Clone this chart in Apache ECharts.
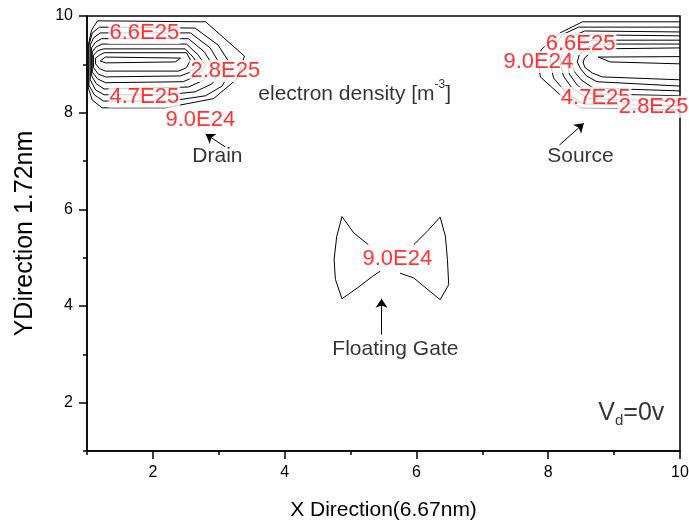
<!DOCTYPE html>
<html>
<head>
<meta charset="utf-8">
<script src="https://cdn.jsdelivr.net/npm/echarts@6/dist/echarts.min.js"></script>
<style>
  html, body { margin: 0; padding: 0; background: #fff; }
  #chart { width: 689px; height: 523px; }
</style>
</head>
<body>
<div id="chart"></div>
<script>
// Axis ranges and tick positions
const xRange = [1, 10];
const yRange = [1, 10];
const majorTicks = [2, 4, 6, 8, 10];
const minorTicks = [1, 3, 5, 7, 9];

// Electron density iso-lines near the drain (closed loops, outermost first)
const drainContours = [
  [[1.16,9.90],[2.80,9.88],[3.39,9.17],[3.28,8.70],[2.92,8.29],[2.19,8.10],[1.23,8.10],[1.08,8.26],[1.02,8.51],[1.02,9.40],[1.07,9.71],[1.16,9.90]],
  [[1.19,9.77],[2.64,9.75],[2.99,9.40],[3.21,8.93],[3.05,8.55],[2.80,8.35],[2.26,8.24],[1.25,8.24],[1.11,8.37],[1.03,8.57],[1.03,9.40],[1.08,9.65],[1.19,9.77]],
  [[1.20,9.65],[2.57,9.65],[2.87,9.34],[3.05,8.93],[2.90,8.60],[2.64,8.43],[2.19,8.37],[1.26,8.37],[1.13,8.47],[1.05,8.68],[1.05,9.40],[1.10,9.55],[1.20,9.65]],
  [[1.22,9.53],[2.54,9.53],[2.78,9.26],[2.92,8.95],[2.78,8.68],[2.54,8.53],[1.26,8.49],[1.14,8.60],[1.07,8.76],[1.07,9.34],[1.13,9.46],[1.22,9.53]],
  [[1.23,9.42],[2.51,9.42],[2.69,9.19],[2.80,8.97],[2.66,8.76],[2.46,8.64],[1.28,8.62],[1.16,8.70],[1.08,8.84],[1.08,9.26],[1.14,9.36],[1.23,9.42]],
  [[1.25,9.32],[2.49,9.32],[2.61,9.15],[2.69,8.99],[2.57,8.84],[2.42,8.76],[1.28,8.74],[1.17,8.80],[1.10,8.93],[1.10,9.19],[1.16,9.28],[1.25,9.32]],
  [[1.26,9.24],[2.51,9.24],[2.57,9.09],[2.51,8.93],[2.39,8.86],[1.28,8.86],[1.19,8.91],[1.13,9.01],[1.13,9.13],[1.19,9.19],[1.26,9.24]],
  [[1.28,9.15],[2.42,9.13],[2.34,9.05],[1.28,9.03],[1.20,9.07],[1.20,9.11],[1.28,9.15]]
];

// Iso-lines near the source (open at the right boundary)
const sourceContours = [
  [[10,9.88],[8.52,9.88],[8.18,9.65],[7.89,9.30],[7.85,9.05],[7.88,8.74],[8.18,8.37],[8.49,8.10],[10,8.06]],
  [[10,9.77],[8.46,9.77],[8.21,9.61],[8.08,9.34],[8.03,9.05],[8.08,8.72],[8.26,8.43],[8.53,8.18],[10,8.14]],
  [[10,9.67],[8.55,9.69],[8.33,9.55],[8.23,9.34],[8.18,9.05],[8.23,8.76],[8.36,8.51],[8.61,8.29],[10,8.24]],
  [[10,9.59],[8.61,9.61],[8.43,9.48],[8.32,9.30],[8.29,9.05],[8.32,8.80],[8.44,8.57],[8.64,8.39],[10,8.35]],
  [[10,9.50],[8.67,9.50],[8.50,9.40],[8.39,9.24],[8.36,9.05],[8.39,8.86],[8.50,8.68],[8.68,8.51],[10,8.45]],
  [[10,9.42],[8.73,9.42],[8.56,9.32],[8.47,9.19],[8.44,9.05],[8.49,8.91],[8.58,8.76],[8.74,8.64],[10,8.55]],
  [[10,9.34],[8.79,9.32],[8.64,9.24],[8.55,9.13],[8.53,9.03],[8.56,8.93],[8.67,8.82],[8.82,8.74],[10,8.68]],
  [[10,9.16],[8.76,9.15],[8.94,9.05],[10,9.01]]
];

// Iso-line around the floating gate (two halves)
const gateContours = [
  [[5.27,5.27],[5.05,5.51],[4.87,5.85],[4.79,5.44],[4.75,4.96],[4.77,4.55],[4.87,4.15],[5.10,4.37],[5.33,4.61],[5.45,4.72]],
  [[5.96,5.27],[6.16,5.54],[6.36,5.84],[6.44,5.44],[6.47,4.96],[6.49,4.44],[6.36,4.13],[6.11,4.41],[5.96,4.58],[5.75,4.68]]
];

// Contour level labels: [x, y, text]
const levelLabels = [
  [1.87, 9.65, '6.6E25'],
  [3.10, 8.86, '2.8E25'],
  [1.87, 8.33, '4.7E25'],
  [2.72, 7.85, '9.0E24'],
  [8.49, 9.42, '6.6E25'],
  [7.85, 9.05, '9.0E24'],
  [8.72, 8.31, '4.7E25'],
  [9.60, 8.12, '2.8E25'],
  [5.71, 4.98, '9.0E24']
];

// Annotation texts: [x, y, text]
const notes = [
  [2.98, 7.09, 'Drain'],
  [8.49, 7.09, 'Source'],
  [5.68, 3.10, 'Floating Gate']
];
const densityNote = [3.60, 8.43];
const biasNote = [8.76, 1.75];

// Arrows: [fromX, fromY, toX, toY]
const arrows = [
  [3.10, 7.29, 2.80, 7.56],
  [8.17, 7.33, 8.54, 7.78],
  [5.47, 3.41, 5.47, 4.15]
];

const FONT = '"Liberation Sans", Arial, sans-serif';

function contourSeries(points) {
  return {
    type: 'line',
    data: points,
    showSymbol: false,
    symbol: 'none',
    silent: true,
    clip: true,
    lineStyle: { color: '#000', width: 1 },
    z: 2
  };
}

const series = [];
drainContours.concat(sourceContours, gateContours).forEach(c => series.push(contourSeries(c)));

series.push({
  type: 'scatter',
  symbolSize: 0,
  silent: true,
  z: 5,
  data: levelLabels.map(d => ({ value: [d[0], d[1]], name: d[2] })),
  label: {
    show: true,
    position: 'inside',
    formatter: p => p.name,
    color: '#ff0000',
    fontFamily: FONT,
    fontSize: 22,
    backgroundColor: '#fff',
    padding: [0, 1]
  }
});

series.push({
  type: 'scatter',
  symbolSize: 0,
  silent: true,
  z: 5,
  data: notes.map(d => ({ value: [d[0], d[1]], name: d[2] })),
  label: {
    show: true,
    position: 'inside',
    formatter: p => p.name,
    color: '#000',
    fontFamily: FONT,
    fontSize: 21
  },
  markLine: {
    silent: true,
    animation: false,
    symbol: ['none', 'arrow'],
    symbolSize: 9,
    label: { show: false },
    lineStyle: { color: '#000', width: 1, type: 'solid' },
    data: arrows.map(a => [{ coord: [a[0], a[1]] }, { coord: [a[2], a[3]] }])
  }
});

series.push({
  type: 'scatter',
  symbolSize: 0,
  silent: true,
  z: 5,
  data: [ { value: densityNote, name: 'density' } ],
  label: {
    show: true,
    position: 'right',
    distance: 0,
    formatter: '{t|electron density [m}{s|-3}{t|]}',
    rich: {
      t: { fontFamily: FONT, fontSize: 21, color: '#000', lineHeight: 26, verticalAlign: 'bottom' },
      s: { fontFamily: FONT, fontSize: 12, color: '#000', lineHeight: 12, verticalAlign: 'top' }
    }
  }
});

series.push({
  type: 'scatter',
  symbolSize: 0,
  silent: true,
  z: 5,
  data: [ { value: biasNote, name: 'bias' } ],
  label: {
    show: true,
    position: 'right',
    distance: 0,
    formatter: '{v|V}{d|d}{v|=0v}',
    rich: {
      v: { fontFamily: FONT, fontSize: 25, color: '#000', lineHeight: 28, verticalAlign: 'top' },
      d: { fontFamily: FONT, fontSize: 15, color: '#000', lineHeight: 15, verticalAlign: 'bottom' }
    },
    lineHeight: 38
  }
});

const axisCommon = {
  type: 'value',
  splitLine: { show: false },
  axisLine: { show: true, onZero: false, lineStyle: { color: '#000', width: 1.5 } },
};

const option = {
  animation: false,
  backgroundColor: '#fff',
  grid: {
    left: 87, right: 9, top: 16, bottom: 72,
    containLabel: false,
    outerBoundsMode: 'none',
    show: true, borderColor: '#000', borderWidth: 1.5, backgroundColor: 'transparent'
  },
  xAxis: [
    Object.assign({}, axisCommon, {
      min: xRange[0], max: xRange[1], position: 'bottom',
      name: 'X Direction(6.67nm)', nameLocation: 'middle', nameGap: 49,
      nameTextStyle: { fontFamily: FONT, fontSize: 21, color: '#000' },
      axisTick: { show: true, inside: false, length: 8, customValues: majorTicks, lineStyle: { color: '#000', width: 1.5 } },
      axisLabel: { show: true, customValues: majorTicks, margin: 14, fontFamily: FONT, fontSize: 16, color: '#000' }
    }),
    Object.assign({}, axisCommon, {
      min: xRange[0], max: xRange[1], position: 'bottom',
      axisLine: { show: false },
      axisTick: { show: true, inside: false, length: 4, customValues: minorTicks, lineStyle: { color: '#000', width: 1.5 } },
      axisLabel: { show: false }
    })
  ],
  yAxis: [
    Object.assign({}, axisCommon, {
      min: yRange[0], max: yRange[1], position: 'left',
      name: 'YDirection 1.72nm', nameLocation: 'middle', nameGap: 49,
      nameTextStyle: { fontFamily: FONT, fontSize: 25, color: '#000' },
      axisTick: { show: true, inside: false, length: 8, customValues: majorTicks, lineStyle: { color: '#000', width: 1.5 } },
      axisLabel: { show: true, customValues: majorTicks, margin: 14, fontFamily: FONT, fontSize: 16, color: '#000' }
    }),
    Object.assign({}, axisCommon, {
      min: yRange[0], max: yRange[1], position: 'left',
      axisLine: { show: false },
      axisTick: { show: true, inside: false, length: 4, customValues: minorTicks, lineStyle: { color: '#000', width: 1.5 } },
      axisLabel: { show: false }
    })
  ],
  series: series
};

const chart = echarts.init(document.getElementById('chart'), null, { renderer: 'canvas' });
chart.setOption(option);
</script>
</body>
</html>
